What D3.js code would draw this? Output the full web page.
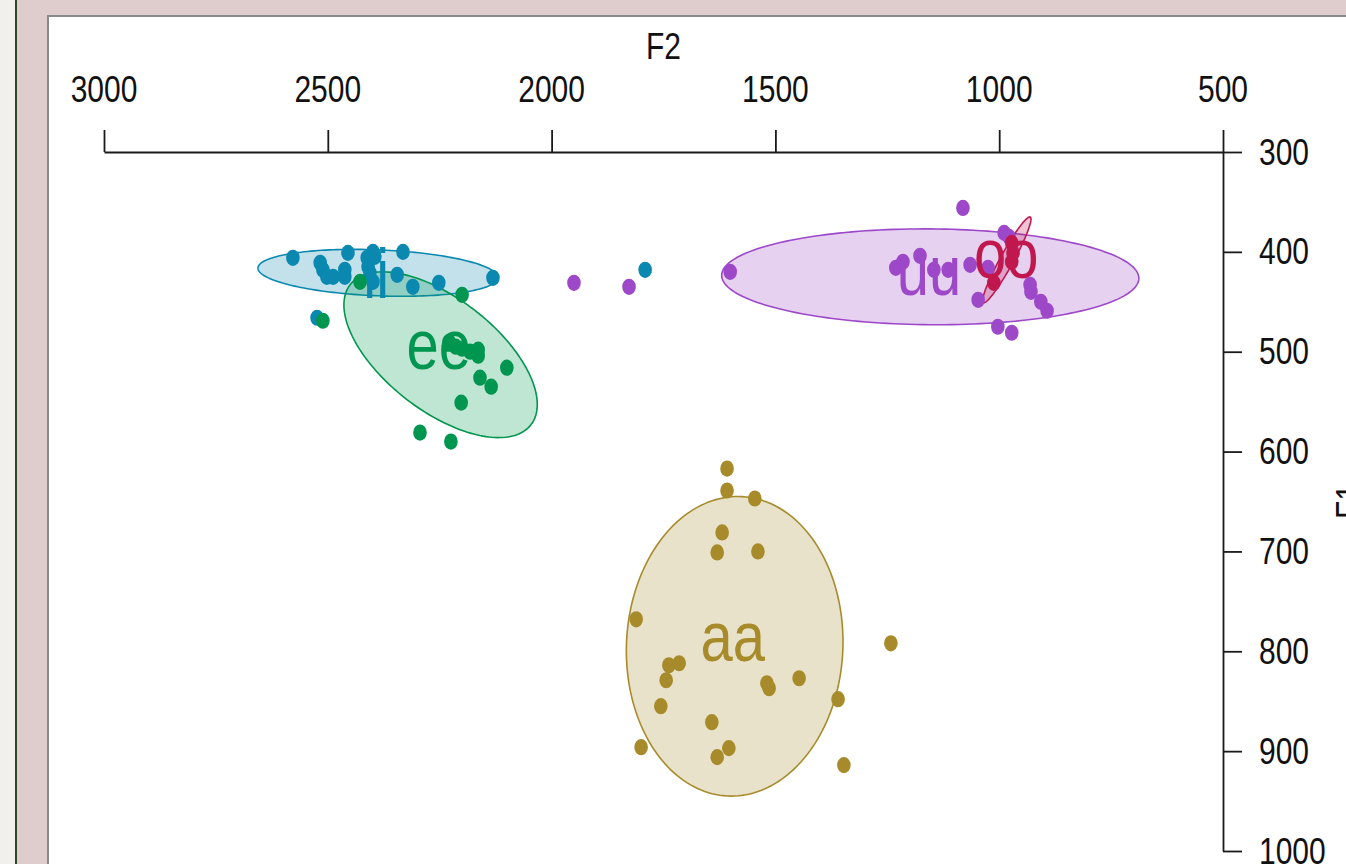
<!DOCTYPE html>
<html><head><meta charset="utf-8">
<script src="https://cdn.jsdelivr.net/npm/d3@7"></script>
<style>
html,body{margin:0;padding:0;background:#f1f0ec;overflow:hidden;}
svg{display:block;}
text{font-family:"Liberation Sans",Arial,sans-serif;}
</style></head>
<body>
<script>
// ---- data ----
const vowels = ["ii","ee","aa","uu","oo"];
const colors = ["#0b88b0","#00964f","#a78b2b","#9d47c9","#c0184e"];
const f2Ticks = [3000,2500,2000,1500,1000,500];
const f1Ticks = [300,400,500,600,700,800,900,1000];

const iiF2 = [2578,2517,2511,2502,2488,2462,2462,2455,2412,2399,2395,2410,2406,2399,2345,2332,2310,2252,2131,2524,1791];
const iiF1 = [406,411,418,425,425,418,425,401,406,400,405,415,421,430,423,400,435,431,426,466,418];
const eeF2 = [2428,2200,2511,2229,2214,2200,2182,2164,2164,2100,2160,2135,2202,2294,2225];
const eeF1 = [430,443,469,490,495,497,500,498,504,516,526,535,551,581,590];
const aaF2 = [1608,1608,1546,1619,1630,1539,1811,1738,1715,1744,1756,1642,1604,1630,1800,1519,1514,1447,1360,1347,1242];
const aaF1 = [617,639,647,681,701,700,768,814,812,829,855,871,897,906,896,832,837,827,848,914,792];
const uuF2 = [1601,1950,1827,1231,1215,1177,1146,1114,1081,1065,1047,1025,989,978,1003,972,931,929,907,893];
const uuF1 = [420,431,435,416,410,404,418,418,356,413,448,416,381,385,475,481,433,440,450,459];
const ooF2 = [972,969,972,1012];
const ooF1 = [391,401,410,431];

// ellipse summaries per vowel (centre, spread, correlation)
const ellF2 = [2388,2248,1591,1154,983];
const ellF1 = [421,503,795,425,408];
const ellSpreadF2 = [268,216,242,466,54];
const ellSpreadF1 = [23.5,83,150,48,43];
const ellCorr = [-0.2,-0.6,0.03,-0.03,0.95];

// label (mean) positions per vowel
const labelF2 = [2392,2252,1595,1157,984];
const labelF1 = [428,499,792,425,408];

const pointsF2 = [iiF2,eeF2,aaF2,uuF2,ooF2];
const pointsF1 = [iiF1,eeF1,aaF1,uuF1,ooF1];

// ---- drawing ----
const W = 1346, H = 864, SY = 1.2;
const svg = d3.select("body").append("svg").attr("width",W).attr("height",H);
svg.append("rect").attr("width",W).attr("height",H).attr("fill","#f1f0ec");
svg.append("rect").attr("x",17).attr("width",W).attr("height",H).attr("fill","#dfcdcd");
svg.append("rect").attr("x",15).attr("width",2).attr("height",H).attr("fill","#2b472b");
svg.append("rect").attr("x",48).attr("y",16).attr("width",1400).attr("height",1000)
  .attr("fill","#fff").attr("stroke","#8a8a8a").attr("stroke-width",2);

const x = d3.scaleLinear().domain([3000,500]).range([104,1223]);
const y = d3.scaleLinear().domain([300,1000]).range([152,851]);

// axes
const gx = svg.append("g").attr("transform","translate(0,152)")
  .call(d3.axisTop(x).tickValues(f2Ticks).tickSize(22).tickSizeOuter(0).tickFormat(""));
const gy = svg.append("g").attr("transform","translate(1223,0)")
  .call(d3.axisRight(y).tickValues(f1Ticks).tickSize(19).tickSizeOuter(0).tickFormat(""));
[gx,gy].forEach(g=>{g.selectAll("path,line").attr("stroke","#1a1a1a").attr("stroke-width",1.8);});

function stext(px,py,str,size,anchor,fill,rot){
  return svg.append("text")
    .attr("transform",`translate(${px},${py}) rotate(${rot||0}) scale(1,${SY})`)
    .attr("text-anchor",anchor).attr("font-size",size).attr("fill",fill).text(str);
}
f2Ticks.forEach(t=>stext(x(t),102,t,30,"middle","#111"));
f1Ticks.forEach(t=>stext(1259,y(t)+12.5,t,30,"start","#111"));
stext((x(3000)+x(500))/2,59,"F2",30,"middle","#111");
stext(1362,(y(300)+y(1000))/2,"F1",30,"middle","#111",-90);

// ellipses
const line = d3.line().x(d=>x(d[0])).y(d=>y(d[1])).curve(d3.curveLinearClosed);
vowels.forEach((v,i)=>{
  const pts = d3.range(0,360,2).map(a=>{
    const t = a*Math.PI/180, r = ellCorr[i];
    return [ellF2[i]+ellSpreadF2[i]*Math.cos(t),
            ellF1[i]+ellSpreadF1[i]*(r*Math.cos(t)+Math.sqrt(1-r*r)*Math.sin(t))];
  });
  svg.append("path").attr("d",line(pts)).attr("fill",colors[i]).attr("fill-opacity",0.25)
    .attr("stroke",colors[i]).attr("stroke-width",1.6);
});
// points
vowels.forEach((v,i)=>{
  svg.append("g").selectAll("ellipse").data(d3.range(pointsF2[i].length)).join("ellipse")
    .attr("cx",j=>x(pointsF2[i][j])).attr("cy",j=>y(pointsF1[i][j]))
    .attr("rx",6.8).attr("ry",8.1).attr("fill",colors[i]);
});
// labels
vowels.forEach((v,i)=>{
  stext(x(labelF2[i]),y(labelF1[i])+18,v,58,"middle",colors[i]);
});
</script>
</body></html>
